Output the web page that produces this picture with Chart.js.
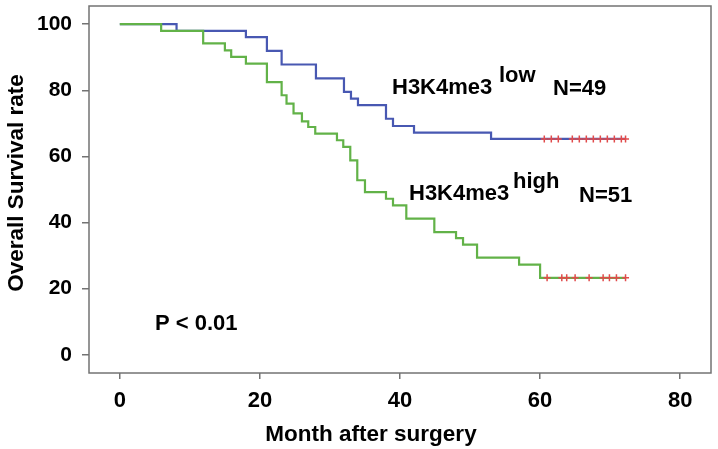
<!DOCTYPE html>
<html>
<head>
<meta charset="utf-8">
<script src="https://cdn.jsdelivr.net/npm/chart.js@4"></script>
<style>
    html, body { margin: 0; padding: 0; background: #fff; }
    #wrap { width: 718px; height: 449px; }
</style>
</head>
<body>
<div id="wrap"><canvas id="myChart" width="718" height="449"></canvas></div>
<script>
// values
let xTicks = [0, 20, 40, 60, 80];
let yTicks = [0, 20, 40, 60, 80, 100];

let lowMonths = [0, 8.1, 18, 21, 23.1, 28, 32, 33, 34, 38, 39, 42, 53, 72.2];
let lowSurv = [100, 98, 96.1, 91.9, 87.8, 83.6, 79.5, 77.5, 75.5, 71.4, 69.2, 67.2, 65.3, 65.3];
let lowCensor = [60.6, 61.6, 62.6, 64.6, 65.6, 66.6, 67.6, 68.6, 69.6, 70.6, 71.6, 72.2];

let highMonths = [0, 5.9, 11.9, 15, 15.9, 18, 21, 23.1, 23.8, 24.8, 26, 26.9, 27.9, 31, 31.9, 32.9, 33.9, 35, 38, 39, 40.9, 44.9, 48, 49, 51, 57, 60, 72.2];
let highSurv = [100, 98, 94.2, 92.1, 90.1, 88.1, 82.5, 78.5, 76, 73, 70.6, 68.9, 66.9, 64.9, 62.9, 58.8, 52.8, 49.2, 47.2, 45.2, 41.2, 37.1, 35.3, 33.3, 29.4, 27.3, 23.3, 23.3];
let highCensor = [61, 63.1, 63.8, 65, 67, 69, 69.9, 70.9, 72.2];

function toPoints(xs, ys) {
    return xs.map((x, i) => ({x: x, y: ys[i]}));
}

function censorPoints(xs, level) {
    return xs.map(x => ({x: x, y: level}));
}

let fontFamily = '"Liberation Sans", Arial, sans-serif';
let axisGrey = 'rgb(115,115,115)';

// box round the plot, axis titles and the text labels inside it
let framePlugin = {
    id: 'frame',
    afterDraw(chart) {
        let ctx = chart.ctx;
        let a = chart.chartArea;
        ctx.save();
        ctx.strokeStyle = axisGrey;
        ctx.lineWidth = 1.5;
        ctx.strokeRect(a.left, a.top, a.right - a.left, a.bottom - a.top);

        ctx.fillStyle = '#000';
        ctx.textBaseline = 'middle';
        ctx.textAlign = 'left';
        ctx.font = 'bold 22px ' + fontFamily;
        ctx.fillText('H3K4me3', 392, 88);
        ctx.fillText('low', 499, 76);
        ctx.fillText('N=49', 553, 89);
        ctx.fillText('H3K4me3', 409, 194);
        ctx.fillText('high', 513, 182);
        ctx.fillText('N=51', 579, 196);
        ctx.fillText('P < 0.01', 155, 324);

        // axis titles (the reference has them a little off-centre)
        ctx.textAlign = 'center';
        ctx.font = 'bold 22.5px ' + fontFamily;
        ctx.fillText('Month after surgery', 371, 435);
        ctx.translate(17, 183);
        ctx.rotate(-Math.PI / 2);
        ctx.fillText('Overall Survival rate', 0, 0);
        ctx.restore();
    }
};

let ctx = document.getElementById('myChart').getContext('2d');

let myChart = new Chart(ctx, {
    type: 'line',
    data: {
        datasets: [
            {
                type: 'scatter',
                data: censorPoints(highCensor, highSurv[highSurv.length - 1]),
                pointStyle: 'cross',
                pointRadius: 3.5,
                borderColor: 'rgb(225,75,75)',
                borderWidth: 1.5,
                order: 0
            },
            {
                type: 'scatter',
                data: censorPoints(lowCensor, lowSurv[lowSurv.length - 1]),
                pointStyle: 'cross',
                pointRadius: 3.5,
                borderColor: 'rgb(225,75,75)',
                borderWidth: 1.5,
                order: 0
            },
            {
                label: 'high',
                data: toPoints(highMonths, highSurv),
                stepped: 'before',
                borderColor: 'rgb(98,178,72)',
                borderWidth: 2.2,
                pointRadius: 0,
                fill: false,
                order: 1
            },
            {
                label: 'low',
                data: toPoints(lowMonths, lowSurv),
                stepped: 'before',
                borderColor: 'rgb(72,88,178)',
                borderWidth: 2.2,
                pointRadius: 0,
                fill: false,
                order: 2
            }
        ]
    },
    options: {
        responsive: false,
        animation: false,
        layout: {padding: {top: 6, right: 7, left: 0, bottom: 0}},
        plugins: {
            legend: {display: false},
            tooltip: {enabled: false}
        },
        scales: {
            x: {
                type: 'linear',
                min: -4.4,
                max: 84.4,
                afterBuildTicks: function (scale) {
                    scale.ticks = xTicks.map(v => ({value: v}));
                },
                afterFit: function (scale) {
                    scale.height = 76;
                    scale.paddingLeft = 0;
                    scale.paddingRight = 0;
                },
                border: {display: false},
                grid: {drawOnChartArea: false, drawTicks: true, tickLength: 6, color: axisGrey, lineWidth: 1.5},
                ticks: {
                    color: '#000',
                    padding: 9,
                    maxRotation: 0,
                    font: {family: fontFamily, size: 22, weight: 'bold'}
                }
            },
            y: {
                type: 'linear',
                min: -5.5,
                max: 105.5,
                afterBuildTicks: function (scale) {
                    scale.ticks = yTicks.map(v => ({value: v}));
                },
                afterFit: function (scale) {
                    scale.width = 89;
                    scale.paddingTop = 0;
                    scale.paddingBottom = 0;
                },
                border: {display: false},
                grid: {drawOnChartArea: false, drawTicks: true, tickLength: 7, color: axisGrey, lineWidth: 1.5},
                ticks: {
                    color: '#000',
                    padding: 10,
                    font: {family: fontFamily, size: 21, weight: 'bold'}
                }
            }
        }
    },
    plugins: [framePlugin]
});
</script>
</body>
</html>
